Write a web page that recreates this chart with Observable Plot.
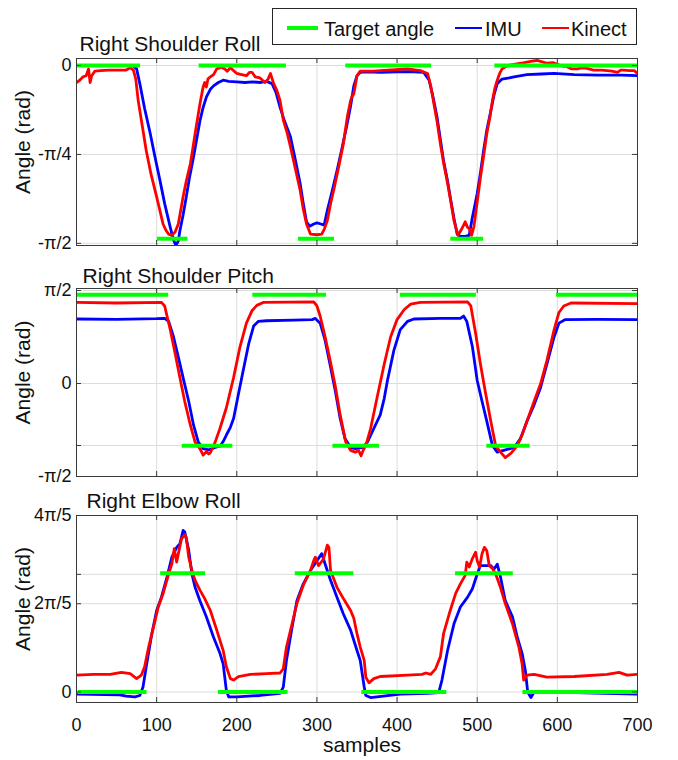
<!DOCTYPE html>
<html>
<head>
<meta charset="utf-8">
<script src="https://cdn.jsdelivr.net/npm/d3@7"></script>
<script src="https://cdn.jsdelivr.net/npm/@observablehq/plot@0.6"></script>
<style>
html, body { margin: 0; padding: 0; background: #fff; }
#fig { position: relative; width: 678px; height: 760px; overflow: hidden;
  font-family: "Liberation Sans", Arial, Helvetica, sans-serif; color: #111; }
.panel { position: absolute; left: 0; }
.panel svg { overflow: visible; }
#legend { position: absolute; left: 272px; top: 8px; width: 363px; height: 35px;
  border: 1px solid #262626; background: #fff; }
#legend .sw { position: absolute; }
#legend .lt { position: absolute; font-size: 20px; line-height: 20px; white-space: nowrap; }
</style>
</head>
<body>
<div id="fig"></div>
<script>
// ---------------- data ----------------
const xTicks = [0, 100, 200, 300, 400, 500, 600, 700];
const seriesNames = ["Target angle", "IMU", "Kinect"];
const seriesColors = ["#00ff00", "#0000ff", "#ff0000"];

// Right Shoulder Roll
const rollTitle = "Right Shoulder Roll";
const rollTicks = [-Math.PI / 2, -Math.PI / 4, 0];
const rollTickLabels = ["-π/2", "-π/4", "0"];
const rollGrid = [-Math.PI / 2, -Math.PI / 4, 0];
const rollDomain = [-1.59, 0.062];
const rollImuX = [0,10,70,75,79,85,92,98,104,110,117,121,124,127,129,133,137,141,146,150,154,158,162,167,171,177,183,190,200,210,220,230,237,244,249,254,260,267,273,279,283,287,291,296,300,305,309,313,319,325,331,337,342,346,350,354,360,380,400,420,433,440,445,450,454,458,463,467,471,475,479,485,490,494,500,504,508,512,517,521,525,531,540,546,562,580,596,621,650,680,700];
const rollImuY = [0,0,0,-0.03,-0.16,-0.38,-0.6,-0.81,-1.01,-1.22,-1.43,-1.54,-1.59,-1.55,-1.46,-1.32,-1.16,-0.99,-0.81,-0.65,-0.49,-0.37,-0.28,-0.21,-0.18,-0.15,-0.13,-0.14,-0.145,-0.15,-0.145,-0.15,-0.14,-0.16,-0.24,-0.37,-0.5,-0.63,-0.83,-1.04,-1.22,-1.38,-1.42,-1.4,-1.39,-1.4,-1.41,-1.28,-1.11,-0.93,-0.74,-0.54,-0.36,-0.18,-0.09,-0.06,-0.055,-0.06,-0.055,-0.055,-0.06,-0.13,-0.28,-0.46,-0.65,-0.84,-1.02,-1.19,-1.35,-1.49,-1.51,-1.51,-1.5,-1.34,-1.13,-0.95,-0.75,-0.57,-0.4,-0.26,-0.16,-0.12,-0.11,-0.1,-0.08,-0.075,-0.07,-0.08,-0.085,-0.085,-0.09];
const rollKinX = [0,4,8,12,15,17,19,23,30,40,50,62,67,71,74,77,82,87,93,100,104,108,112,115,119,123,127,130,133,137,142,145,148,151,154,158,160,162,164,167,171,175,181,185,188,192,196,200,206,212,216,219,223,229,235,239,242,246,250,254,258,263,267,273,279,283,287,292,300,306,309,313,317,321,327,333,338,342,344,346,350,354,371,388,413,429,438,442,446,450,454,458,463,467,471,476,481,485,488,490,493,496,498,501,504,508,512,516,519,522,525,528,531,538,546,555,562,570,575,580,587,595,604,612,618,625,630,637,645,655,662,668,675,679,683,690,696,700];
const rollKinY = [-0.15,-0.13,-0.1,-0.09,-0.03,-0.15,-0.09,-0.05,-0.045,-0.04,-0.04,-0.04,-0.02,-0.04,-0.12,-0.31,-0.53,-0.75,-0.96,-1.16,-1.28,-1.4,-1.46,-1.49,-1.5,-1.47,-1.4,-1.28,-1.16,-1.02,-0.87,-0.74,-0.6,-0.47,-0.34,-0.19,-0.15,-0.19,-0.12,-0.1,-0.08,-0.03,-0.015,-0.03,-0.05,-0.02,-0.045,-0.07,-0.08,-0.09,-0.06,-0.06,-0.1,-0.11,-0.15,-0.12,-0.07,-0.16,-0.22,-0.31,-0.48,-0.6,-0.72,-0.91,-1.1,-1.27,-1.4,-1.49,-1.495,-1.49,-1.45,-1.37,-1.22,-1.1,-0.9,-0.69,-0.45,-0.31,-0.27,-0.25,-0.09,-0.05,-0.05,-0.04,-0.03,-0.045,-0.07,-0.18,-0.34,-0.5,-0.69,-0.86,-1.04,-1.2,-1.37,-1.5,-1.44,-1.38,-1.43,-1.44,-1.5,-1.42,-1.31,-1.15,-0.99,-0.8,-0.6,-0.45,-0.31,-0.2,-0.13,-0.07,-0.03,0,0.01,0.02,0.03,0.04,0.045,0.035,0.02,0.025,0,-0.01,-0.03,-0.03,-0.02,-0.025,-0.04,-0.04,-0.045,-0.05,-0.06,-0.04,-0.04,-0.045,-0.045,-0.07];
const rollTargetStart = [0, 101, 153, 277, 336, 467, 522];
const rollTargetEnd = [80, 139, 262, 322, 443, 508, 700];
const rollTargetValue = [0, -1.53, 0, -1.53, 0, -1.53, 0];

// Right Shoulder Pitch
const pitchTitle = "Right Shoulder Pitch";
const pitchTicks = [-Math.PI / 2, 0, Math.PI / 2];
const pitchTickLabels = ["-π/2", "0", "π/2"];
const pitchGrid = [-Math.PI / 2, -Math.PI / 3, 0, Math.PI / 2];
const pitchDomain = [-Math.PI / 2, 1.605];
const pitchImuX = [0,50,100,110,115,121,127,133,140,146,152,158,165,173,179,183,187,192,196,202,208,215,221,227,237,271,294,298,304,310,317,323,329,335,342,348,357,363,371,379,384,388,396,404,413,421,454,479,483,487,494,500,506,512,519,525,533,546,554,562,571,579,587,596,602,610,650,700];
const pitchImuY = [1.09,1.085,1.095,1.1,1.05,0.79,0.45,0.1,-0.3,-0.7,-0.99,-1.1,-1.12,-1.08,-1.06,-0.98,-0.87,-0.74,-0.59,-0.18,0.22,0.68,0.97,1.05,1.06,1.07,1.08,1.1,1.02,0.74,0.28,-0.13,-0.59,-0.93,-1.08,-1.1,-1.08,-0.99,-0.76,-0.53,-0.25,0.05,0.56,0.91,1.05,1.09,1.1,1.1,1.14,1.05,0.62,0.05,-0.3,-0.64,-1.05,-1.16,-1.13,-1.08,-0.93,-0.64,-0.36,-0.07,0.33,0.79,1.02,1.08,1.085,1.08];
const pitchKinX = [0,50,106,110,117,123,129,135,142,148,154,158,162,165,167,173,179,187,196,204,212,219,225,233,296,300,304,310,317,323,329,336,342,348,352,355,358,361,367,375,384,392,400,409,417,429,488,492,498,504,510,517,523,529,535,542,550,556,562,571,579,587,596,602,608,617,700];
const pitchKinY = [1.37,1.36,1.37,1.31,0.91,0.51,0.1,-0.3,-0.7,-0.99,-1.1,-1.21,-1.15,-1.19,-1.17,-0.99,-0.76,-0.41,0.1,0.62,1.02,1.23,1.32,1.37,1.38,1.31,1.14,0.8,0.36,-0.05,-0.53,-0.99,-1.13,-1.16,-1.13,-1.22,-1.12,-1.05,-0.76,-0.24,0.33,0.79,1.08,1.25,1.34,1.37,1.38,1.31,0.85,0.33,-0.13,-0.64,-1.05,-1.16,-1.25,-1.18,-1.05,-0.87,-0.64,-0.3,-0.01,0.39,0.91,1.2,1.31,1.36,1.35];
const pitchTargetStart = [0, 132, 220, 320, 404, 512, 599];
const pitchTargetEnd = [115, 195, 312, 378, 499, 566, 700];
const pitchTargetValue = [1.5, -1.05, 1.5, -1.05, 1.5, -1.05, 1.5];

// Right Elbow Roll
const elbowTitle = "Right Elbow Roll";
const elbowTicks = [0, 2 * Math.PI / 5, 4 * Math.PI / 5];
const elbowTickLabels = ["0", "2π/5", "4π/5"];
const elbowGrid = [0, 2 * Math.PI / 5, 1.675, 4 * Math.PI / 5];
const elbowDomain = [-0.15, 4 * Math.PI / 5];
const elbowImuX = [0,54,62,73,79,83,87,94,100,106,113,119,125,129,133,135,140,144,148,154,162,171,179,183,187,190,200,229,254,258,262,269,275,283,292,300,306,310,317,325,333,342,350,354,359,361,367,404,438,452,456,463,471,479,488,494,500,504,517,521,525,529,535,544,550,556,560,563,567,571,579,621,700];
const elbowImuY = [-0.03,-0.04,-0.06,-0.07,-0.05,0.07,0.36,0.83,1.16,1.35,1.64,1.92,2.06,2.11,2.3,2.28,2.02,1.68,1.49,1.3,1.07,0.78,0.55,0.4,0.02,-0.07,-0.07,-0.05,-0.02,0.07,0.45,0.92,1.3,1.54,1.73,1.87,1.97,1.83,1.59,1.35,1.11,0.88,0.59,0.45,0.07,-0.05,-0.08,-0.03,-0.02,-0.01,0.17,0.59,0.97,1.21,1.35,1.47,1.68,1.8,1.8,1.75,1.82,1.64,1.3,1.07,0.78,0.55,0.31,0,-0.08,0,-0.01,-0.01,-0.03];
const elbowKinX = [0,21,42,56,67,75,81,85,90,96,102,108,115,119,122,125,128,131,135,137,140,144,148,154,160,167,175,183,187,192,196,202,217,237,254,258,262,269,275,283,292,296,298,302,308,313,315,317,325,333,342,346,350,354,359,361,365,371,379,413,431,436,442,448,454,458,465,473,479,485,487,490,494,498,500,503,506,509,512,515,519,523,529,535,544,552,556,558,562,571,587,621,662,677,687,700];
const elbowKinY = [0.24,0.25,0.25,0.28,0.26,0.19,0.24,0.36,0.64,0.92,1.21,1.4,1.68,1.83,2.04,1.85,2.02,2.18,2.24,2.2,1.92,1.73,1.59,1.45,1.33,1.16,0.88,0.59,0.36,0.19,0.17,0.22,0.25,0.26,0.27,0.33,0.64,0.97,1.26,1.52,1.73,1.87,1.92,1.8,1.89,2.09,2.06,1.73,1.49,1.33,1.16,1.05,0.83,0.64,0.45,0.21,0.13,0.19,0.22,0.24,0.25,0.27,0.25,0.33,0.5,0.83,1.11,1.4,1.54,1.66,1.85,1.78,1.9,1.99,1.87,1.78,1.97,2.06,2.01,1.8,1.76,1.68,1.49,1.26,0.97,0.64,0.4,0.17,0.24,0.25,0.21,0.22,0.25,0.28,0.24,0.25];
const elbowTargetStart = [2, 105, 177, 273, 356, 473, 557];
const elbowTargetEnd = [88, 161, 264, 346, 462, 545, 700];
const elbowTargetValue = [0, 1.69, 0, 1.69, 0, 1.69, 0];

// ---------------- drawing ----------------
const W = 678, ML = 76, MR = 41, PW = W - ML - MR;
const FONT = '"Liberation Sans", Arial, Helvetica, sans-serif';
const fig = document.getElementById("fig");

function panel(cfg) {
  const plotH = cfg.bottom - cfg.top;
  const mt = 30, mb = cfg.xAxis ? 56 : 6;
  const fmt = new Map(cfg.ticks.map((v, i) => [v, cfg.labels[i]]));
  const marks = [
    Plot.gridX(xTicks, {x: d => d, stroke: "#dcdcdc", strokeOpacity: 1, strokeWidth: 1}),
    Plot.gridY(cfg.grid, {y: d => d, stroke: "#dcdcdc", strokeOpacity: 1, strokeWidth: 1}),
    Plot.line(cfg.imuY, {x: cfg.imuX, y: cfg.imuY, stroke: seriesColors[1], strokeWidth: 2.8, clip: true}),
    Plot.line(cfg.kinY, {x: cfg.kinX, y: cfg.kinY, stroke: seriesColors[2], strokeWidth: 2.8, clip: true}),
    Plot.ruleY(cfg.tVal, {y: cfg.tVal, x1: cfg.tStart, x2: cfg.tEnd, stroke: seriesColors[0], strokeWidth: 4}),
    Plot.frame({stroke: "#3a3a3a", strokeWidth: 1}),
    // inward tick marks on the four sides of the box
    Plot.tickY(cfg.grid, {y: d => d, stroke: "#3a3a3a", insetRight: PW - 5}),
    Plot.tickY(cfg.grid, {y: d => d, stroke: "#3a3a3a", insetLeft: PW - 5}),
    Plot.tickX(xTicks, {x: d => d, stroke: "#3a3a3a", insetTop: plotH - 5}),
    Plot.tickX(xTicks, {x: d => d, stroke: "#3a3a3a", insetBottom: plotH - 5}),
    Plot.axisY(cfg.ticks, {tickSize: 0, tickPadding: 5, tickFormat: d => fmt.get(d), fontSize: 18, fill: "#111", label: null}),
    Plot.text([cfg.title], {frameAnchor: "top-left", text: d => d, textAnchor: "start", lineAnchor: "bottom",
      dx: cfg.titleDx, dy: cfg.titleDy, fontSize: 21, fill: "#111"}),
    Plot.text(["Angle (rad)"], {frameAnchor: "left", text: d => d, rotate: -90, textAnchor: "middle", lineAnchor: "bottom",
      dx: -47, dy: -10, fontSize: 21, fill: "#111"})
  ];
  if (cfg.xAxis) {
    marks.push(Plot.axisX(xTicks, {tickSize: 0, tickPadding: 16, fontSize: 18, fill: "#111", label: null}));
    marks.push(Plot.text(["samples"], {frameAnchor: "bottom", text: d => d, lineAnchor: "bottom", dx: 5, dy: 49.7, fontSize: 21, fill: "#111"}));
  }
  const svg = Plot.plot({
    width: W, height: mt + plotH + mb,
    marginLeft: ML, marginRight: MR, marginTop: mt, marginBottom: mb,
    x: {domain: [0, 700], axis: null},
    y: {domain: cfg.domain, axis: null},
    style: {fontFamily: FONT, background: "transparent", color: "#111", overflow: "visible"},
    marks
  });
  const div = document.createElement("div");
  div.className = "panel";
  div.style.top = (cfg.top - mt) + "px";
  div.appendChild(svg);
  fig.appendChild(div);
}

panel({top: 58, bottom: 245, domain: rollDomain, ticks: rollTicks, labels: rollTickLabels, grid: rollGrid,
  imuX: rollImuX, imuY: rollImuY, kinX: rollKinX, kinY: rollKinY,
  tStart: rollTargetStart, tEnd: rollTargetEnd, tVal: rollTargetValue,
  title: rollTitle, titleDx: 3, titleDy: -7.5, xAxis: false});
panel({top: 288, bottom: 476, domain: pitchDomain, ticks: pitchTicks, labels: pitchTickLabels, grid: pitchGrid,
  imuX: pitchImuX, imuY: pitchImuY, kinX: pitchKinX, kinY: pitchKinY,
  tStart: pitchTargetStart, tEnd: pitchTargetEnd, tVal: pitchTargetValue,
  title: pitchTitle, titleDx: 6, titleDy: -5.5, xAxis: false});
panel({top: 515, bottom: 702, domain: elbowDomain, ticks: elbowTicks, labels: elbowTickLabels, grid: elbowGrid,
  imuX: elbowImuX, imuY: elbowImuY, kinX: elbowKinX, kinY: elbowKinY,
  tStart: elbowTargetStart, tEnd: elbowTargetEnd, tVal: elbowTargetValue,
  title: elbowTitle, titleDx: 10, titleDy: -8, xAxis: true});

// legend (HTML, on top)
const legend = document.createElement("div");
legend.id = "legend";
const swLeft = [14, 182, 269];
const swWidth = [31, 27, 27];
const swThick = [4, 2.8, 2.8];
const txtLeft = [51, 212, 298];
seriesNames.forEach((name, i) => {
  const sw = document.createElement("div");
  sw.className = "sw";
  sw.style.left = swLeft[i] + "px";
  sw.style.width = swWidth[i] + "px";
  sw.style.height = swThick[i] + "px";
  sw.style.top = (19 - swThick[i] / 2) + "px";
  sw.style.background = seriesColors[i];
  legend.appendChild(sw);
  const t = document.createElement("div");
  t.className = "lt";
  t.style.left = txtLeft[i] + "px";
  t.style.top = "9.5px";
  t.textContent = name;
  legend.appendChild(t);
});
fig.appendChild(legend);
</script>
</body>
</html>
